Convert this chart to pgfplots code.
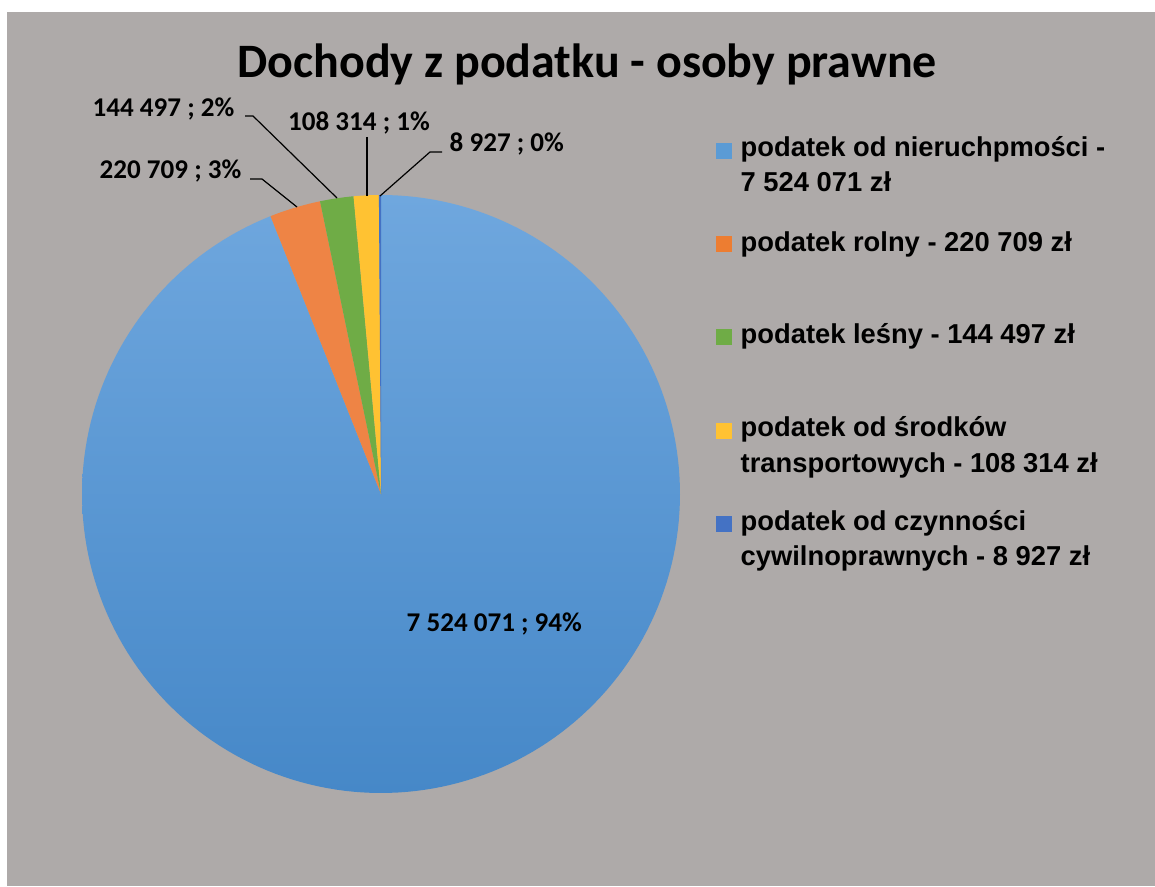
\documentclass[border=0pt]{standalone}
\usepackage{pgfplots}
\usepackage{pgfplotstable}
\usepackage{fontspec}
\pgfplotsset{compat=1.18}
\setmainfont{Carlito}
\newfontfamily\legfont{Liberation Sans}
\definecolor{bg}{HTML}{AEAAA9}
\definecolor{cBlueT}{HTML}{6FA7DE}
\definecolor{cBlueB}{HTML}{4688C8}
\definecolor{cOrange}{HTML}{EE8445}
\definecolor{cGreen}{HTML}{6FAC46}
\definecolor{cYellow}{HTML}{FFC232}
\definecolor{cDark}{HTML}{4472C4}
\definecolor{cBlueL}{HTML}{5B9BD5}
\definecolor{cOrangeL}{HTML}{ED7D31}

\pgfplotstableread{
v
7524071
220709
144497
108314
8927
}\data

\pgfplotstablegetelem{0}{v}\of\data \edef\vA{\pgfplotsretval}
\pgfplotstablegetelem{1}{v}\of\data \edef\vB{\pgfplotsretval}
\pgfplotstablegetelem{2}{v}\of\data \edef\vC{\pgfplotsretval}
\pgfplotstablegetelem{3}{v}\of\data \edef\vD{\pgfplotsretval}
\pgfplotstablegetelem{4}{v}\of\data \edef\vE{\pgfplotsretval}
\edef\tot{\fpeval{\vA+\vB+\vC+\vD+\vE}}
\edef\aA{\fpeval{90-360*\vA/\tot}}
\edef\aB{\fpeval{\aA-360*\vB/\tot}}
\edef\aC{\fpeval{\aB-360*\vC/\tot}}
\edef\aD{\fpeval{\aC-360*\vD/\tot}}
\edef\aE{\fpeval{\aD-360*\vE/\tot}}

\newcommand\lab{\fontsize{20.3pt}{24pt}\selectfont\bfseries}
\newcommand\leg{\legfont\fontsize{20.5pt}{26pt}\selectfont\bfseries}

\begin{document}
\begin{tikzpicture}
\begin{axis}[
  scale only axis, width=866.25pt, height=664.5pt,
  xmin=0, xmax=1155, ymin=-886, ymax=0,
  hide axis, clip=false,
]
% background
\fill[white] (0,-886) rectangle (1155,0);
\fill[bg] (7,-886) rectangle (1155,-12);

% title
\node[anchor=base, font=\fontsize{36pt}{40pt}\selectfont\bfseries] at (587,-78) {Dochody z podatku - osoby prawne};

% pie
\def\cx{381}\def\cy{-494}\def\r{299}
\addplot[top color=cBlueT, bottom color=cBlueB, draw=none, domain=\aA:90, samples=200, variable=\t]
  ({\cx+\r*cos(\t)}, {\cy+\r*sin(\t)}) -- (\cx,\cy) -- cycle;
\addplot[fill=cOrange, draw=none, domain=\aB:\aA, samples=20, variable=\t]
  ({\cx+\r*cos(\t)}, {\cy+\r*sin(\t)}) -- (\cx,\cy) -- cycle;
\addplot[fill=cGreen, draw=none, domain=\aC:\aB, samples=20, variable=\t]
  ({\cx+\r*cos(\t)}, {\cy+\r*sin(\t)}) -- (\cx,\cy) -- cycle;
\addplot[fill=cYellow, draw=none, domain=\aD:\aC, samples=20, variable=\t]
  ({\cx+\r*cos(\t)}, {\cy+\r*sin(\t)}) -- (\cx,\cy) -- cycle;
\addplot[fill=cDark, draw=none, domain=\aE:\aD, samples=5, variable=\t]
  ({\cx+\r*cos(\t)}, {\cy+\r*sin(\t)}) -- (\cx,\cy) -- cycle;

% data labels
\node[anchor=base west, font=\lab] at (402,-631) {7 524 071 ; 94\%};
\node[anchor=base east, font=\lab] at (246,-179) {220 709 ; 3\%};
\node[anchor=base east, font=\lab] at (239,-117) {144 497 ; 2\%};
\node[anchor=base, font=\lab] at (359,-131) {108 314 ; 1\%};
\node[anchor=base west, font=\lab] at (445,-152) {8 927 ; 0\%};

% leader lines
\draw[black, line width=0.9pt] (250,-179) -- (262,-179) -- (297,-207);
\draw[black, line width=0.9pt] (245,-116) -- (253,-116) -- (337,-198);
\draw[black, line width=0.9pt] (367,-137) -- (367,-196);
\draw[black, line width=0.9pt] (442,-152) -- (430,-152) -- (380,-196);

% legend
\fill[cBlueL] (716,-143) rectangle (732,-159);
\node[anchor=base west, font=\leg] at (736,-157) {podatek od nieruchpmości -};
\node[anchor=base west, font=\leg] at (736,-192) {7 524 071 zł};
\fill[cOrangeL] (716,-236) rectangle (732,-252);
\node[anchor=base west, font=\leg] at (736,-252) {podatek rolny - 220 709 zł};
\fill[cGreen] (716,-329) rectangle (732,-345);
\node[anchor=base west, font=\leg] at (736,-344) {podatek leśny - 144 497 zł};
\fill[cYellow] (716,-423) rectangle (732,-439);
\node[anchor=base west, font=\leg] at (736,-437) {podatek od środków};
\node[anchor=base west, font=\leg] at (736,-472) {transportowych - 108 314 zł};
\fill[cDark] (716,-516) rectangle (732,-532);
\node[anchor=base west, font=\leg] at (736,-530) {podatek od czynności};
\node[anchor=base west, font=\leg] at (736,-565) {cywilnoprawnych - 8 927 zł};
\end{axis}
\end{tikzpicture}
\end{document}
